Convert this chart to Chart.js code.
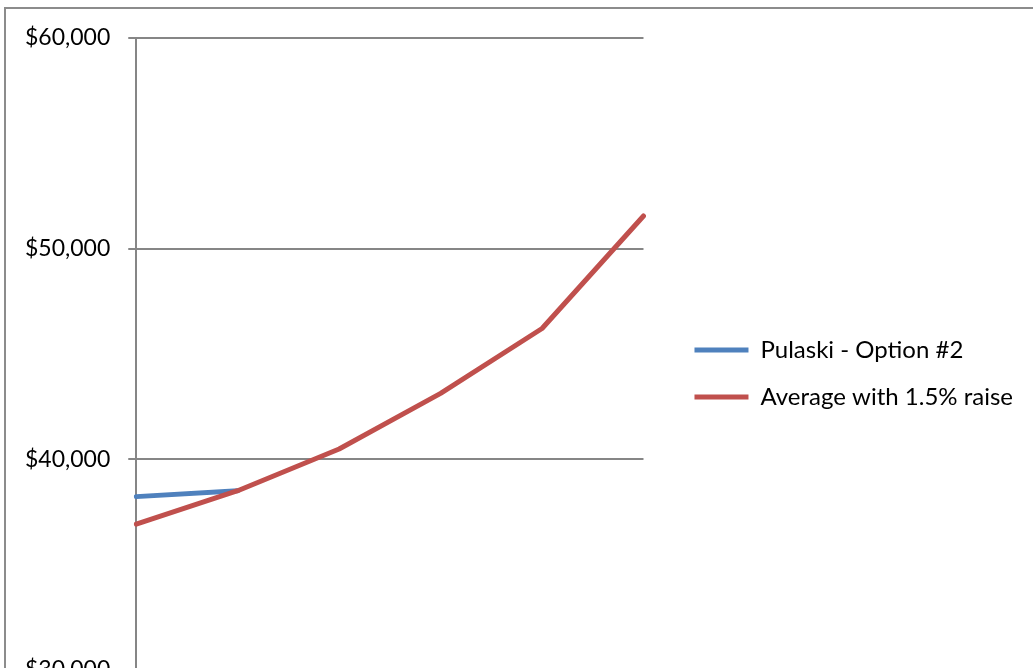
<!DOCTYPE html>
<html>
<head>
<meta charset="utf-8">
<script src="https://cdn.jsdelivr.net/npm/chart.js@4"></script>
<style>
  html, body { margin: 0; padding: 0; background: #fff; overflow: hidden; }
  #frame { position: absolute; left: 4px; top: 7px; width: 1100px; height: 800px; border: 2px solid #8c8c8c; }
  #wrap { position: absolute; left: 0; top: 0; width: 1033px; height: 709px; }
</style>
</head>
<body>
<div id="frame"></div>
<div id="wrap"><canvas id="line-chart"></canvas></div>
<script>
// steps along the salary scale (labels sit below the visible area)
const steps = ["1", "2", "3", "4", "5", "6"];
const pulaskiOption2 = [38230, 38510, null, null, null, null];
const averageRaise = [36920, 38510, 40490, 43130, 46210, 51550];
const yTicks = [30000, 40000, 50000, 60000];

const gridGray = "#868686";
const fontFamily = "Lato, 'Open Sans', sans-serif";

const ctx = document.getElementById("line-chart").getContext("2d");

new Chart(ctx, {
  type: "line",
  data: {
    labels: steps,
    datasets: [{
      label: "Pulaski - Option #2",
      data: pulaskiOption2,
      borderColor: "#4f81bd",
      backgroundColor: "#4f81bd",
      borderWidth: 5,
      borderCapStyle: "round",
      borderJoinStyle: "round",
      pointRadius: 0,
      tension: 0,
      order: 2
    }, {
      label: "Average with 1.5% raise",
      data: averageRaise,
      borderColor: "#c0504d",
      backgroundColor: "#c0504d",
      borderWidth: 5,
      borderCapStyle: "round",
      borderJoinStyle: "round",
      pointRadius: 0,
      tension: 0,
      order: 1
    }]
  },
  options: {
    responsive: true,
    maintainAspectRatio: false,
    animation: false,
    layout: {
      padding: { top: 38, left: 7, right: 10, bottom: 0 }
    },
    scales: {
      x: {
        offset: false,
        grid: { display: false },
        border: { display: false },
        ticks: { display: false },
        afterFit: s => { s.height = 39; }
      },
      y: {
        min: yTicks[0],
        max: yTicks[yTicks.length - 1],
        afterBuildTicks: s => { s.ticks = yTicks.map(v => ({ value: v })); },
        grid: { color: gridGray, lineWidth: 2, tickLength: 8 },
        border: { color: gridGray, width: 2 },
        ticks: {
          color: "#000",
          padding: 18,
          font: { family: fontFamily, size: 23 },
          callback: v => "$" + v.toLocaleString("en-US")
        }
      },
      gap: {
        position: "right",
        grid: { display: false },
        border: { display: false },
        ticks: { display: false },
        afterFit: s => { s.width = 28; }
      }
    },
    plugins: {
      tooltip: { enabled: false },
      legend: {
        position: "right",
        maxWidth: 420,
        labels: {
          usePointStyle: true,
          pointStyle: "line",
          pointStyleWidth: 54,
          padding: 23,
          color: "#000",
          font: { family: fontFamily, size: 24 },
          sort: (a, b) => a.datasetIndex - b.datasetIndex
        }
      }
    }
  }
});
</script>
</body>
</html>
